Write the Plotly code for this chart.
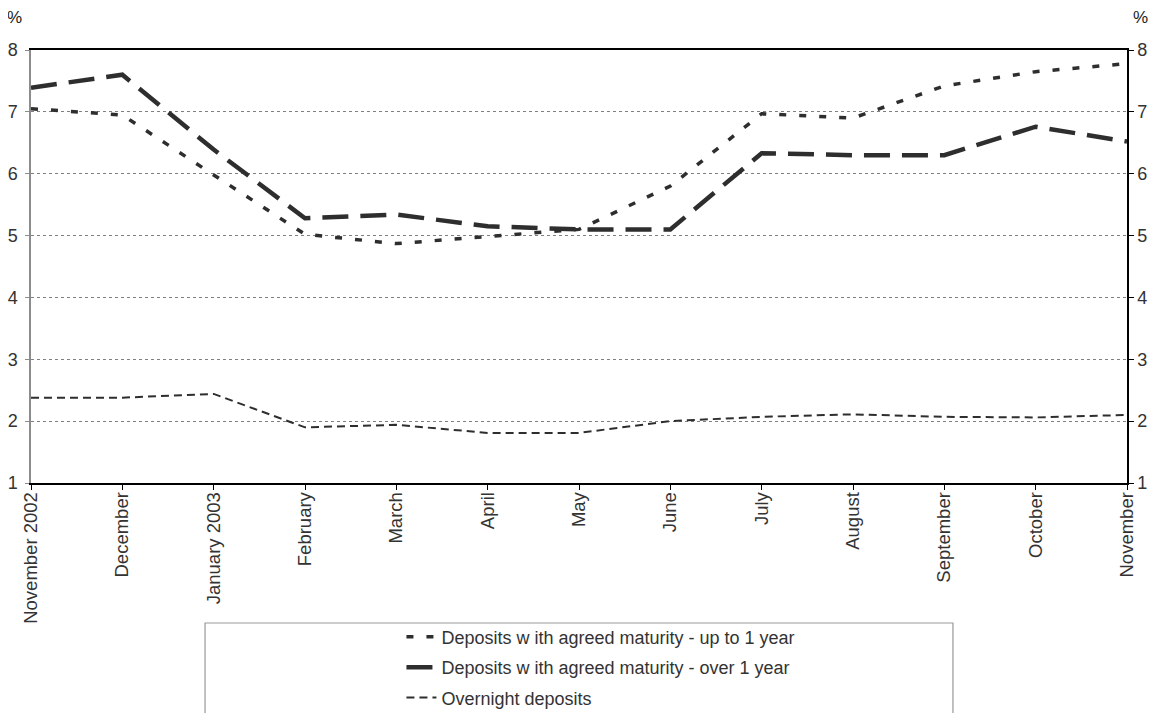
import plotly.graph_objects as go

months = ["November 2002", "December", "January 2003", "February", "March", "April",
          "May", "June", "July", "August", "September", "October", "November"]
up_to_1y = [7.05, 6.95, 5.98, 5.02, 4.87, 4.98, 5.10, 5.80, 6.97, 6.90, 7.42, 7.65, 7.78]
over_1y = [7.39, 7.60, 6.39, 5.28, 5.34, 5.15, 5.10, 5.10, 6.33, 6.30, 6.30, 6.76, 6.52]
overnight = [2.38, 2.38, 2.44, 1.90, 1.94, 1.81, 1.81, 2.00, 2.07, 2.11, 2.07, 2.06, 2.10]
y_ticks = [1, 2, 3, 4, 5, 6, 7, 8]

names = ["Deposits w ith agreed maturity - up to 1 year",
         "Deposits w ith agreed maturity - over 1 year",
         "Overnight deposits"]

LINE = "#2e2e2e"
FONT = "Liberation Sans, Arial, sans-serif"
xi = list(range(len(months)))

fig = go.Figure()
fig.add_trace(go.Scatter(x=xi, y=up_to_1y, name=names[0], mode="lines", legendgroup="a",
                         line=dict(color=LINE, width=3.5, dash="7px,13px")))
fig.add_trace(go.Scatter(x=xi, y=over_1y, name=names[1], mode="lines", legendgroup="b",
                         line=dict(color=LINE, width=4.5, dash="26px,12px")))
fig.add_trace(go.Scatter(x=xi, y=overnight, name=names[2], mode="lines", legendgroup="c",
                         line=dict(color=LINE, width=2, dash="8px,5px")))
# invisible trace to anchor the right-hand axis
fig.add_trace(go.Scatter(x=xi, y=overnight, yaxis="y2", mode="lines", showlegend=False,
                         hoverinfo="skip", line=dict(width=0), opacity=0))

fig.update_layout(
    width=1150, height=705,
    margin=dict(l=23, r=31, t=42, b=230, autoexpand=False),
    paper_bgcolor="white", plot_bgcolor="white",
    font=dict(family=FONT, size=18, color="#222"),
    showlegend=True,
    legend=dict(x=0.338, y=-0.313, xanchor="left", yanchor="top",
                bgcolor="rgba(0,0,0,0)", borderwidth=0, tracegroupgap=4,
                font=dict(size=18, color="#333")),
    xaxis=dict(range=[0, 12], tickvals=xi, ticktext=months, tickangle=-90,
               showgrid=False, showline=True, linecolor="black", linewidth=1.5,
               mirror=True, ticks="outside", ticklen=5, tickcolor="black",
               ticklabelstandoff=-5,
               tickfont=dict(size=18.5, color="#333"), zeroline=False, automargin=False),
    yaxis=dict(range=[1, 8], tickvals=y_ticks, showgrid=True, gridcolor="#808080",
               griddash="3px,3px", gridwidth=1, showline=True, linecolor="#8c8c8c",
               linewidth=1.5, ticks="outside", ticklen=4, tickcolor="#8c8c8c",
               ticklabelstandoff=4,
               tickfont=dict(size=18, color="#333"), zeroline=False, automargin=False),
    yaxis2=dict(range=[1, 8], tickvals=y_ticks, overlaying="y", side="right",
                showgrid=False, showline=True, linecolor="black", linewidth=1.5,
                ticks="outside", ticklen=5, tickcolor="black",
                tickfont=dict(size=18, color="#333"), zeroline=False, automargin=False),
    shapes=[dict(type="rect", xref="paper", yref="paper",
                 x0=0.1588, x1=0.8412, y0=-0.70, y1=-0.3233,
                 line=dict(color="#999999", width=1.2), fillcolor="rgba(0,0,0,0)")],
    annotations=[
        dict(text="%", xref="paper", yref="paper", x=-0.0237, y=1.101,
             showarrow=False, font=dict(size=17, color="#222")),
        dict(text="%", xref="paper", yref="paper", x=1.021, y=1.101,
             showarrow=False, font=dict(size=17, color="#222")),
    ],
)

fig.write_html("out.html")
